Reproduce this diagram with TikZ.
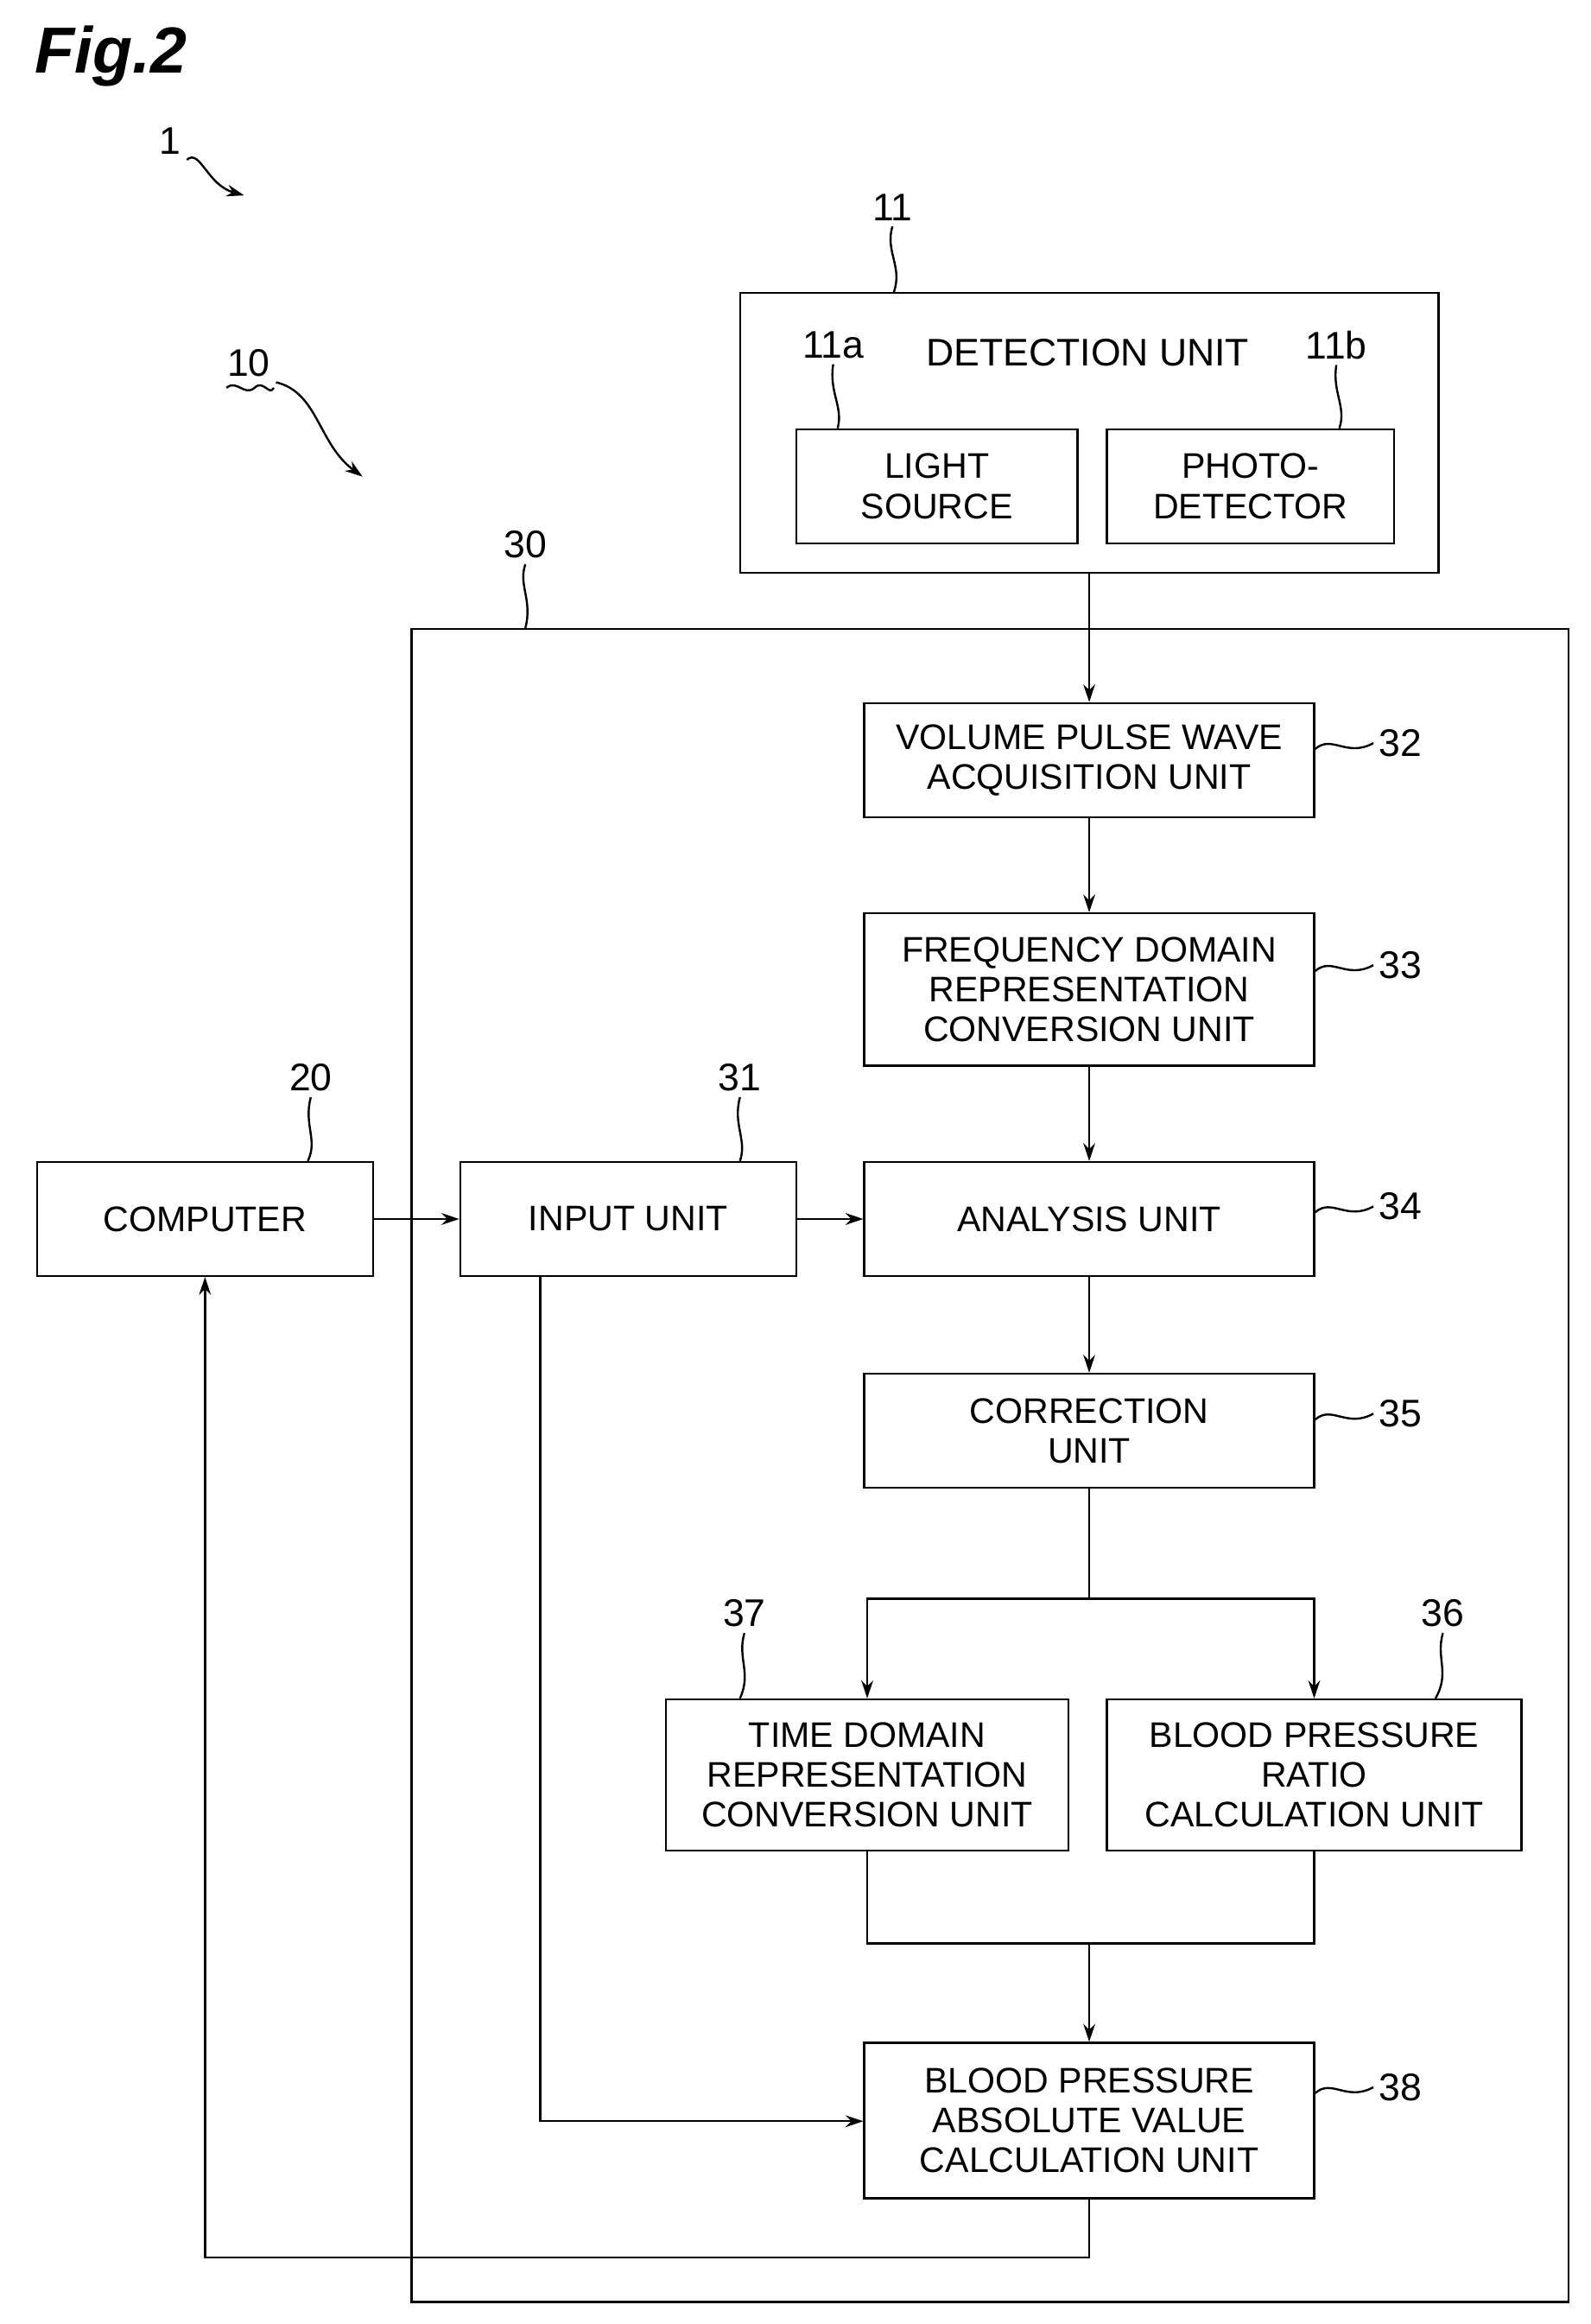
\documentclass[tikz,border=0pt]{standalone}
\usepackage{fontspec}
\setmainfont{Liberation Sans}
\usetikzlibrary{arrows.meta}
\begin{document}
\begin{tikzpicture}[x=1pt,y=-1pt,line width=1.4pt,
  blk/.style={draw,align=center,inner sep=0pt,font=\fontsize{24}{27}\selectfont},
  lbl/.style={font=\fontsize{26}{28}\selectfont},
  arr/.style={-{Stealth[length=12pt,width=8pt]}}]
\definecolor{drawColor}{RGB}{0,0,0}
\path[use as bounding box] (0,0) rectangle (1075,1570);

\node[font=\fontsize{44}{46}\selectfont\bfseries\itshape] (fig) at (75,38) {Fig.2};

% reference numerals with wavy leaders
\node[lbl] (n1) at (115,95) {1};
\coordinate (n1e) at (165,132);
\draw[arr] (n1.south east) .. controls (135,100) and (140,125) .. (n1e);
\node[lbl] (n10) at (168,245) {10};
\draw (153,262) .. controls (160,256) and (165,268) .. (172,262) .. controls (178,256) and (182,268) .. (185,262);
\coordinate (n10e) at (245,322);
\draw[arr] (n10.south east) .. controls (215,265) and (215,300) .. (n10e);

% detection unit
\node[draw,minimum width=472pt,minimum height=189pt] (det) at (736,292.5) {};
\node[lbl] (detl) at (735,238) {DETECTION UNIT};
\node[blk,minimum width=190pt,minimum height=77pt] (light) at (633,328.5) {LIGHT\\SOURCE};
\node[blk,minimum width=194pt,minimum height=77pt] (photo) at (845,328.5) {PHOTO-\\DETECTOR};
\node[lbl] (n11) at (603,140) {11};
\draw (n11.south) .. controls (598,170) and (610,180) .. (det.north -| 604,0);
\node[lbl] (n11a) at (563,233) {11a};
\draw (n11a.south) .. controls (560,265) and (570,275) .. (light.north -| 566,0);
\node[lbl] (n11b) at (903,233) {11b};
\draw (n11b.south) .. controls (900,265) and (910,275) .. (photo.north -| 905,0);

% processing unit
\node[draw,minimum width=782pt,minimum height=1130pt] (proc) at (669,990) {};
\node[lbl] (n30) at (355,368) {30};
\draw (n30.south) .. controls (350,395) and (360,405) .. (proc.north -| 355,0);

\node[blk,minimum width=304pt,minimum height=77pt] (vpw) at (736,513.5) {VOLUME PULSE WAVE\\ACQUISITION UNIT};
\node[blk,minimum width=304pt,minimum height=103pt] (fdr) at (736,668.5) {FREQUENCY DOMAIN\\REPRESENTATION\\CONVERSION UNIT};
\node[blk,minimum width=304pt,minimum height=77pt] (ana) at (736,823.5) {ANALYSIS UNIT};
\node[blk,minimum width=304pt,minimum height=77pt] (cor) at (736,966.5) {CORRECTION\\UNIT};
\node[blk,minimum width=272pt,minimum height=102pt] (tdr) at (586,1199) {TIME DOMAIN\\REPRESENTATION\\CONVERSION UNIT};
\node[blk,minimum width=280pt,minimum height=102pt] (bpr) at (888,1199) {BLOOD PRESSURE\\RATIO\\CALCULATION UNIT};
\node[blk,minimum width=304pt,minimum height=105pt] (bpa) at (736,1432.5) {BLOOD PRESSURE\\ABSOLUTE VALUE\\CALCULATION UNIT};
\node[blk,minimum width=227pt,minimum height=77pt] (comp) at (138.5,823.5) {COMPUTER};
\node[blk,minimum width=227pt,minimum height=77pt] (inp) at (424.5,823.5) {INPUT UNIT};

% numerals at the right side
\foreach \nm/\tx/\yy in {vpw/32/502,fdr/33/652,ana/34/815,cor/35/955,bpa/38/1410}{
  \node[lbl,anchor=west] (n\tx) at (928,\yy) {\tx};
  \draw (\nm.east |- 0,\yy+4) .. controls (900,\yy-6) and (910,\yy+10) .. (n\tx.west);
}
\node[lbl] (n20) at (210,728) {20};
\draw (n20.south) .. controls (205,760) and (215,770) .. (comp.north -| 208,0);
\node[lbl] (n31) at (500,728) {31};
\draw (n31.south) .. controls (495,760) and (505,770) .. (inp.north -| 500,0);
\node[lbl] (n37) at (503,1090) {37};
\draw (n37.south) .. controls (498,1120) and (508,1130) .. (tdr.north -| 500,0);
\node[lbl] (n36) at (975,1090) {36};
\draw (n36.south) .. controls (970,1120) and (980,1130) .. (bpr.north -| 970,0);

% connectors
\draw[arr] (det.south -| vpw.north) -- (vpw.north);
\draw[arr] (vpw) -- (fdr);
\draw[arr] (fdr) -- (ana);
\draw[arr] (ana) -- (cor);
\coordinate (split) at (736,1080);
\draw (cor.south) -- (split);
\draw[arr] (split) -| (tdr.north);
\draw[arr] (split) -| (bpr.north);
\coordinate (join) at (736,1313);
\draw (tdr.south) |- (join) -| (bpr.south);
\draw[arr] (join) -- (bpa.north);
\draw[arr] (comp) -- (inp);
\draw[arr] (inp) -- (ana);
\draw[arr] (inp.south -| 365,0) |- (bpa.west |- 0,1433);
\coordinate (back) at (736,1525);
\draw[arr] (bpa.south) -- (back) -| (comp.south);
\end{tikzpicture}
\end{document}
